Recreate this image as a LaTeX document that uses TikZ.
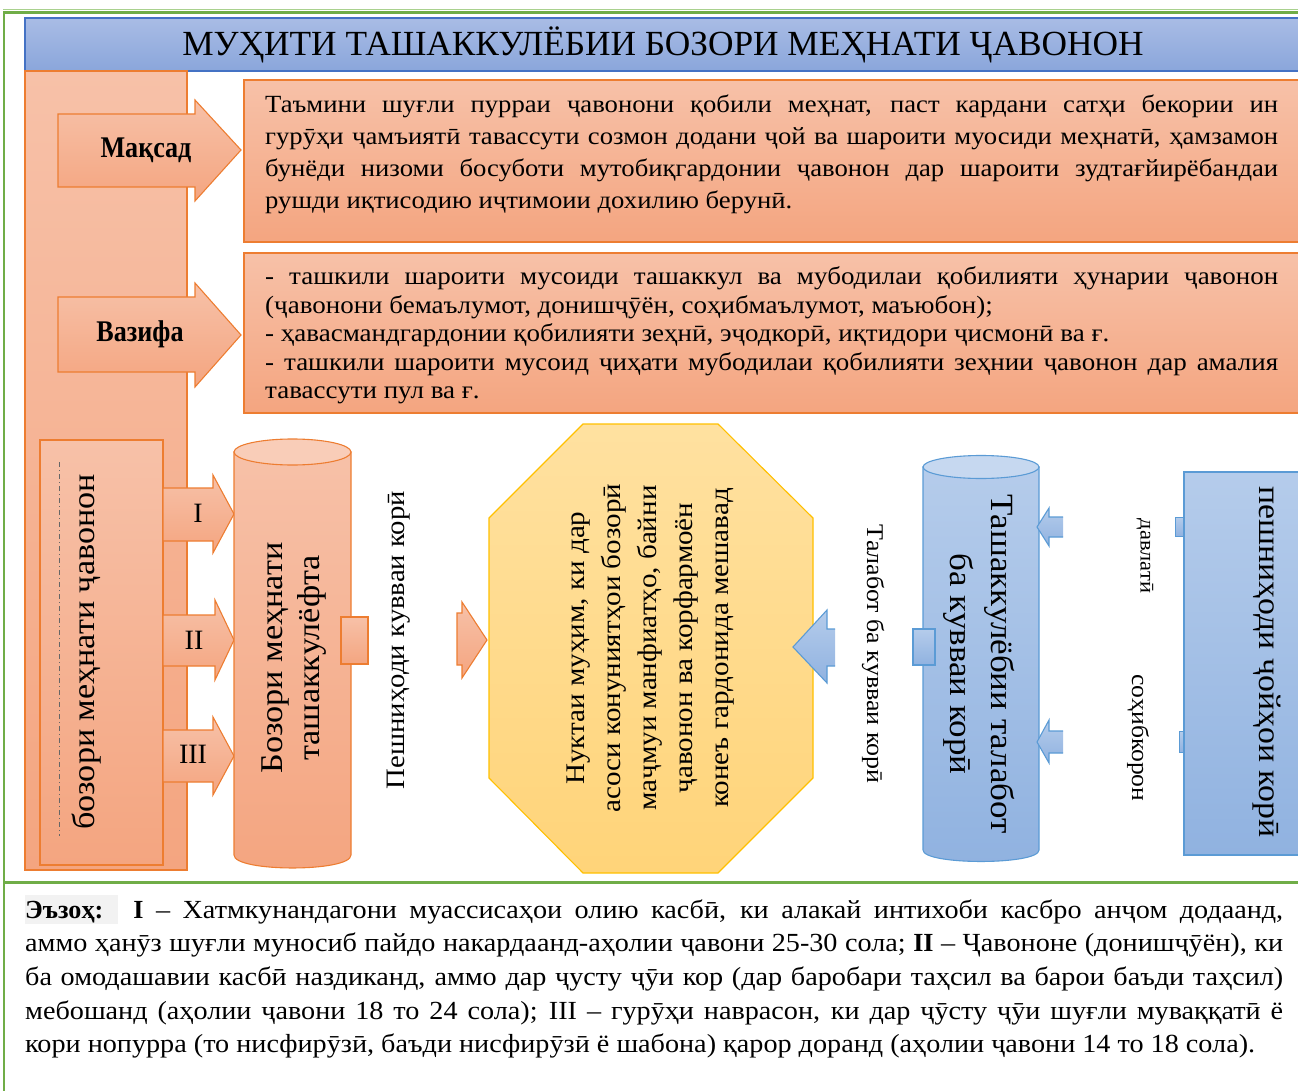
\documentclass[tikz,border=0pt]{standalone}
\usepackage{fontspec}
\setmainfont[FakeStretch=1.08]{Liberation Serif}
\newfontfamily\titlefam{Liberation Serif}
\newfontfamily\condfam[FakeStretch=0.87]{Liberation Serif}
\newcommand\myfs[2]{\fontsize{#1}{#2}\selectfont}
\newcommand\jl[1]{\makebox[\linewidth][s]{#1}}
\definecolor{grn}{HTML}{70AD47}
\definecolor{grnl}{HTML}{A9D18E}
\definecolor{orb}{HTML}{ED7D31}
\definecolor{saltop}{HTML}{F7C1A8}
\definecolor{salbot}{HTML}{F4A580}
\definecolor{salcap}{HTML}{F9CDB8}
\definecolor{blb}{HTML}{5B9BD5}
\definecolor{bltop}{HTML}{B5CCEB}
\definecolor{blbot}{HTML}{90B2E0}
\definecolor{blcap}{HTML}{C6D8F0}
\definecolor{ttop}{HTML}{A9BCE5}
\definecolor{tbot}{HTML}{8AA6DB}
\definecolor{tbord}{HTML}{4472C4}
\definecolor{ytop}{HTML}{FFE1A0}
\definecolor{ybot}{HTML}{FFD479}
\definecolor{yb}{HTML}{FFC000}
\definecolor{hl}{HTML}{F2F2F2}
\tikzset{
  sal/.style={draw=orb, line width=1.1pt, top color=saltop, bottom color=salbot},
  blu/.style={draw=blb, line width=1.1pt, top color=bltop, bottom color=blbot},
  bluopen/.style={draw=blb, line width=1.1pt},
  txt/.style={inner sep=0pt, text=black, align=center},
}
\begin{document}
\begin{tikzpicture}[x=1pt,y=-1pt]
\useasboundingbox (0,0) rectangle (1298,1091);
\clip (0,0) rectangle (1298,1091);
% green frame
\draw[grnl, line width=1pt] (3,9.5) -- (1302,9.5);
\draw[grn, line width=2.5pt] (1302,12.5) -- (4,12.5) -- (4,1095);
\draw[grn, line width=3pt] (4,882) -- (1302,882);
% title bar
\path[draw=tbord, line width=1.1pt, top color=ttop, bottom color=tbot] (25,18) rectangle (1304,71);
\node[txt, font=\titlefam\myfs{35.3}{38}] (title) at (663,45) {МУҲИТИ ТАШАККУЛЁБИИ БОЗОРИ МЕҲНАТИ ҶАВОНОН};
% left column
\path[sal] (25,71) rectangle (187,870);
% goal / task boxes
\path[sal] (244,80) rectangle (1304,242);
\path[sal] (244,253) rectangle (1304,413);
% Maqsad arrow
\path[sal] (58,114) -- (195,114) -- (195,100) -- (241,150) -- (195,201) -- (195,187) -- (58,187) -- cycle;
\node[txt, font=\condfam\myfs{30}{32}\bfseries] (maqsad) at (146,150) {Мақсад};
% Vazifa arrow
\path[sal] (58,297) -- (195,297) -- (195,283) -- (241,335) -- (195,387) -- (195,372) -- (58,372) -- cycle;
\node[txt, font=\condfam\myfs{30}{32}\bfseries] (vazifa) at (140,334) {Вазифа};
% goal text
\node[anchor=base west, inner sep=0pt] (goaltext) at (265,113) {\parbox[t]{1013pt}{\myfs{24.7}{32}%
\jl{Таъмини шуғли пурраи ҷавонони қобили меҳнат, паст кардани сатҳи бекории ин}\\
\jl{гурӯҳи ҷамъиятӣ тавассути созмон додани ҷой ва шароити муосиди меҳнатӣ, ҳамзамон}\\
\jl{бунёди низоми босуботи мутобиқгардонии ҷавонон дар шароити зудтағйирёбандаи}\\
рушди иқтисодию иҷтимоии дохилию берунӣ.}};
% task text
\node[anchor=base west, inner sep=0pt] (tasktext) at (265,285) {\parbox[t]{1013pt}{\myfs{25}{28.5}%
\jl{- ташкили шароити мусоиди ташаккул ва мубодилаи қобилияти ҳунарии ҷавонон}\\
(ҷавонони бемаълумот, донишҷӯён, соҳибмаълумот, маъюбон);\\
- ҳавасмандгардонии қобилияти зеҳнӣ, эҷодкорӣ, иқтидори ҷисмонӣ ва ғ.\\
\jl{- ташкили шароити мусоид ҷиҳати мубодилаи қобилияти зеҳнии ҷавонон дар амалия}\\
тавассути пул ва ғ.}};
% inner left rect
\path[sal] (40,440) rectangle (163,865);
\draw[black!60, line width=0.6pt, dash pattern=on 5pt off 3pt on 1pt off 3pt] (59,462) -- (59,836);
\node[txt, rotate=90, font=\myfs{31.6}{34}] (youthmarket) at (87,652) {бозори меҳнати ҷавонон};
% roman arrows
\path[sal] (163,488) -- (213,488) -- (213,475) -- (234,514) -- (213,553) -- (213,541) -- (163,541) -- cycle;
\node[txt, font=\titlefam\myfs{28}{30}] (r1) at (198,513) {I};
\path[sal] (163,615) -- (215,615) -- (215,600) -- (234,640) -- (215,680) -- (215,666) -- (163,666) -- cycle;
\node[txt, font=\titlefam\myfs{28}{30}] (r2) at (194,640) {II};
\path[sal] (163,730) -- (213,730) -- (213,717) -- (234,756) -- (213,795) -- (213,782) -- (163,782) -- cycle;
\node[txt, font=\titlefam\myfs{28}{30}] (r3) at (193,754) {III};
% orange cylinder
\path[sal] (234,452) -- (234,855) .. controls (234,872.3) and (351,872.3) .. (351,855) -- (351,452) -- cycle;
\path[draw=orb, line width=1.1pt, fill=salcap] (292.5,452) ellipse [x radius=58.5, y radius=13];
\node[txt, rotate=90, font=\myfs{31.7}{37}] (formed) at (294,658) {Бозори меҳнати\\ташаккулёфта};
\path[sal] (341,617) rectangle (368,664);
% supply label
\node[txt, rotate=90, font=\myfs{26.6}{30}] (supply) at (399,640) {Пешниҳоди кувваи корӣ};
% orange small arrow
\path[sal] (457,613) -- (462,613) -- (462,602) -- (487,640) -- (462,678) -- (462,665) -- (457,665) -- cycle;
% octagon
\path[draw=yb, line width=1.1pt, top color=ytop, bottom color=ybot]
  (583,424) -- (718,424) -- (813,518) -- (813,778) -- (718,873) -- (583,873) -- (489,778) -- (489,518) -- cycle;
\node[txt, rotate=90, font=\myfs{26.9}{36}] (core) at (651,648) {Нуктаи муҳим, ки дар\\асоси конуниятҳои бозорӣ\\маҷмуи манфиатҳо, байни\\ҷавонон ва корфармоён\\конеъ гардонида мешавад};
% blue arrow into octagon
\path[blu, draw=none] (835,629) -- (827,629) -- (827,610) -- (793,647) -- (827,683) -- (827,666) -- (835,666) -- cycle;
\draw[bluopen] (835,629) -- (827,629) -- (827,610) -- (793,647) -- (827,683) -- (827,666) -- (835,666);
% demand label
\node[txt, rotate=-90, font=\myfs{24}{26}] (demand) at (873,654) {Талабот ба кувваи корӣ};
% blue cylinder
\path[blu] (923,467) -- (923,850) .. controls (923,865.3) and (1039,865.3) .. (1039,850) -- (1039,467) -- cycle;
\path[draw=blb, line width=1.1pt, fill=blcap] (981,467) ellipse [x radius=58, y radius=11.5];
\node[txt, rotate=-90, font=\myfs{32.4}{41}] (demandform) at (979,664) {Ташаккулёбии талабот\\ба кувваи корӣ};
\path[blu] (913,629) rectangle (935,665);
% small blue arrows into cylinder
\path[blu, draw=none] (1063,517) -- (1049,517) -- (1049,508) -- (1037,527) -- (1049,546) -- (1049,537) -- (1063,537) -- cycle;
\draw[bluopen] (1063,517) -- (1049,517) -- (1049,508) -- (1037,527) -- (1049,546) -- (1049,537) -- (1063,537);
\path[blu, draw=none] (1063,731) -- (1049,731) -- (1049,720) -- (1037,742) -- (1049,763) -- (1049,753) -- (1063,753) -- cycle;
\draw[bluopen] (1063,731) -- (1049,731) -- (1049,720) -- (1037,742) -- (1049,763) -- (1049,753) -- (1063,753);
% state / employers labels
\node[txt, rotate=-90, font=\myfs{20.8}{22}] (state) at (1145,556) {давлатӣ};
\node[txt, rotate=-90, font=\myfs{23.7}{24}] (employers) at (1138,738) {соҳибкорон};
% small blue bits
\path[blu, line width=0.8pt] (1175,517) rectangle (1185,536);
\path[blu, line width=0.8pt] (1179,731) rectangle (1185,752);
% big blue rect
\path[blu] (1184,472) rectangle (1304,855);
\node[txt, rotate=-90, font=\myfs{31.3}{34}] (jobs) at (1267,662) {пешниҳоди ҷойҳои корӣ};
% note
\path[fill=hl] (25,895) rectangle (118,924);
\node[anchor=base west, inner sep=0pt] (note) at (25,918) {\parbox[t]{1258pt}{\myfs{26.1}{33.7}%
\jl{{\titlefam\bfseries Эъзоҳ:}\hspace{10pt} {\titlefam\bfseries I} – Хатмкунандагони муассисаҳои олию касбӣ, ки алакай интихоби касбро анҷом додаанд,}\\
\jl{аммо ҳанӯз шуғли муносиб пайдо накардаанд-аҳолии ҷавони 25-30 сола; {\titlefam\bfseries II} – Ҷавононе (донишҷӯён), ки}\\
\jl{ба омодашавии касбӣ наздиканд, аммо дар ҷусту ҷӯи кор (дар баробари таҳсил ва барои баъди таҳсил)}\\
\jl{мебошанд (аҳолии ҷавони 18 то 24 сола); III – гурӯҳи наврасон, ки дар ҷӯсту ҷӯи шуғли муваққатӣ ё}\\
кори нопурра (то нисфирӯзӣ, баъди нисфирӯзӣ ё шабона) қарор доранд (аҳолии ҷавони 14 то 18 сола).}};
\end{tikzpicture}
\end{document}
